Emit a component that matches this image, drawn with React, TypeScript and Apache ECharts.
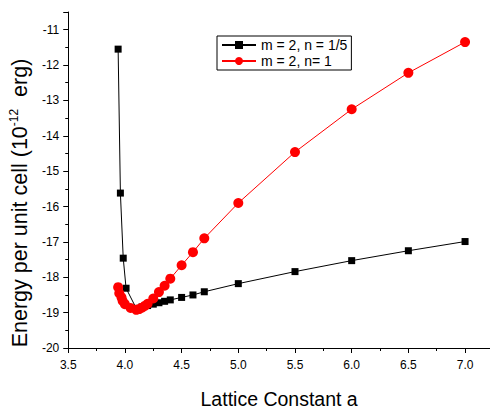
import React, { useEffect, useRef } from "react";
import * as echarts from "echarts";

const blackX = [3.94, 3.96, 3.985, 4.01, 4.1, 4.15, 4.2, 4.25, 4.3, 4.35, 4.4, 4.5, 4.6, 4.7, 5.0, 5.5, 6.0, 6.5, 7.0];
const blackY = [-11.55, -15.62, -17.46, -18.31, -18.88, -18.84, -18.8, -18.76, -18.72, -18.68, -18.64, -18.57, -18.5, -18.41, -18.18, -17.84, -17.53, -17.25, -16.99];

const redX = [3.94, 3.95, 3.97, 3.98, 4.0, 4.05, 4.1, 4.125, 4.15, 4.175, 4.2, 4.25, 4.3, 4.35, 4.4, 4.5, 4.6, 4.7, 5.0, 5.5, 6.0, 6.5, 7.0];
const redY = [-18.28, -18.45, -18.57, -18.67, -18.76, -18.87, -18.92, -18.9, -18.86, -18.81, -18.75, -18.6, -18.42, -18.24, -18.04, -17.66, -17.29, -16.9, -15.9, -14.46, -13.25, -12.22, -11.35];

const seriesNames = ["m = 2, n = 1/5", "m = 2, n= 1"];
const xTitle = "Lattice Constant a";
const FONT = "'Liberation Sans', Arial, sans-serif";

export default function App() {
  const ref = useRef<HTMLDivElement>(null);
  useEffect(() => {
    const chart = echarts.init(ref.current!, null, { renderer: "svg" });
    chart.setOption({
      animation: false,
      backgroundColor: "#fff",
      textStyle: { fontFamily: FONT },
      grid: { left: 67, top: 12, right: 0, bottom: 59 },
      legend: {
        orient: "vertical",
        left: 217,
        top: 36,
        padding: [2, 4, 2, 4],
        itemGap: 2,
        itemWidth: 34,
        itemHeight: 10,
        borderColor: "#000",
        borderWidth: 1,
        borderRadius: 0,
        textStyle: { fontSize: 14, color: "#000", fontFamily: FONT },
        data: seriesNames,
      },
      xAxis: {
        type: "value",
        min: 3.5,
        max: 7.22,
        interval: 0.5,
        name: xTitle,
        nameLocation: "middle",
        nameGap: 41,
        nameTextStyle: { fontSize: 19.5, color: "#000", fontFamily: FONT },
        splitLine: { show: false },
        axisLine: { lineStyle: { color: "#000", width: 1 } },
        axisTick: { inside: false, length: 5, lineStyle: { color: "#000" } },
        minorTick: { show: true, splitNumber: 2, length: 3, lineStyle: { color: "#000" } },
        axisLabel: {
          color: "#000",
          fontSize: 12,
          margin: 11,
          showMaxLabel: false,
          formatter: (v: number) => v.toFixed(1),
        },
      },
      yAxis: {
        type: "value",
        min: -20,
        max: -10.5,
        interval: 1,
        name: "Energy per unit cell (10{sup|-12}  erg)",
        nameLocation: "middle",
        nameGap: 36,
        nameRotate: 90,
        nameTextStyle: {
          fontSize: 21.5,
          color: "#000",
          fontFamily: FONT,
          padding: [0, 46, 0, 0],
          rich: {
            sup: { fontSize: 12, verticalAlign: "top", lineHeight: 24, fontFamily: FONT, color: "#000" },
          },
        },
        splitLine: { show: false },
        axisLine: { show: true, lineStyle: { color: "#000", width: 1 } },
        axisTick: { show: true, inside: false, length: 5, lineStyle: { color: "#000" } },
        minorTick: { show: true, splitNumber: 2, length: 3, lineStyle: { color: "#000" } },
        axisLabel: { color: "#000", fontSize: 12, margin: 9, showMaxLabel: false },
      },
      series: [
        {
          name: seriesNames[0],
          type: "line",
          data: blackX.map((x, i) => [x, blackY[i]]),
          symbol: "rect",
          symbolSize: 7,
          lineStyle: { color: "#000", width: 1 },
          itemStyle: { color: "#000" },
          z: 2,
        },
        {
          name: seriesNames[1],
          type: "line",
          data: redX.map((x, i) => [x, redY[i]]),
          symbol: "circle",
          symbolSize: 10,
          lineStyle: { color: "#ff0000", width: 1 },
          itemStyle: { color: "#ff0000" },
          z: 3,
        },
      ],
    });
    return () => chart.dispose();
  }, []);
  return <div ref={ref} style={{ position: "fixed", left: 0, top: 0, width: 490, height: 414 }} />;
}
